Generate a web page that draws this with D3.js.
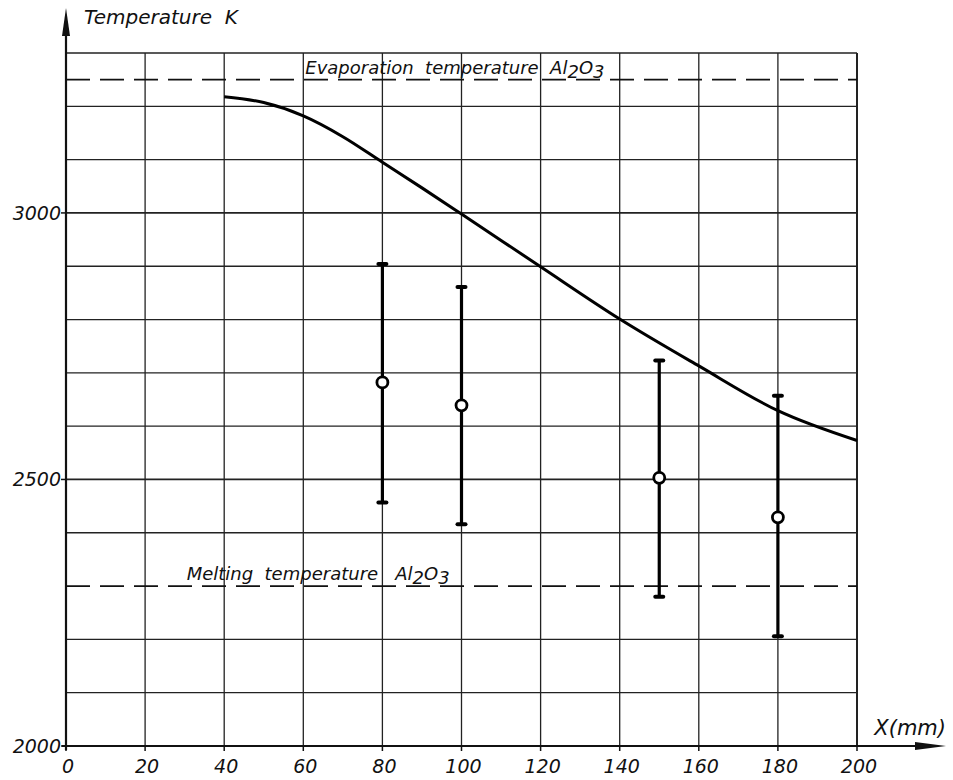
<!DOCTYPE html>
<html>
<head>
<meta charset="utf-8">
<script src="https://cdn.jsdelivr.net/npm/d3@7"></script>
<style>
  body { margin: 0; background: #fff; }
  text { font-family: "DejaVu Sans", sans-serif; font-style: italic; fill: #111; }
</style>
</head>
<body>
<div id="chart"></div>
<script>
// data
const xTicks = [0, 20, 40, 60, 80, 100, 120, 140, 160, 180, 200];
const yTickLabels = [2000, 2500, 3000];
const curveX = [40, 50, 60, 70, 80, 90, 100, 120, 140, 160, 180, 200];
const curveT = [3218, 3207, 3182, 3143, 3095, 3047, 2998, 2899, 2801, 2713, 2629, 2573];
const pointX = [80, 100, 150, 180];
const pointT = [2682, 2639, 2503, 2429];
const pointHigh = [2904, 2861, 2723, 2657];
const pointLow = [2457, 2416, 2280, 2206];
const evaporationT = 3250;
const meltingT = 2300;

const width = 953, height = 780;
const margin = {left: 66, right: 96, top: 53, bottom: 34};

const svg = d3.select("#chart").append("svg")
    .attr("width", width)
    .attr("height", height);

const x = d3.scaleLinear().domain([0, 200]).range([margin.left, width - margin.right]);
const y = d3.scaleLinear().domain([2000, 3300]).range([height - margin.bottom, margin.top]);

// grid (the 2300 line is replaced by the dashed melting line)
svg.append("g").selectAll("line").data(d3.range(2100, 3301, 100).filter(d => d !== meltingT)).join("line")
    .attr("x1", x(0)).attr("x2", x(200))
    .attr("y1", d => y(d)).attr("y2", d => y(d))
    .attr("stroke", "#222").attr("stroke-width", d => d === 3000 || d === 2500 ? 1.8 : 1.3);

svg.append("g").selectAll("line").data(xTicks.slice(1)).join("line")
    .attr("x1", d => x(d)).attr("x2", d => x(d))
    .attr("y1", y(2000)).attr("y2", y(3300))
    .attr("stroke", "#222").attr("stroke-width", d => d === 200 ? 2 : 1.3);

// axes with arrows
svg.append("line")
    .attr("x1", x(0)).attr("x2", x(0))
    .attr("y1", y(2000) + 4).attr("y2", 22)
    .attr("stroke", "#111").attr("stroke-width", 2.2);
svg.append("path")
    .attr("d", `M${x(0) - 4},36 L${x(0)},8 L${x(0) + 4},36 Z`)
    .attr("fill", "#111");

svg.append("line")
    .attr("x1", x(0) - 4).attr("x2", 925)
    .attr("y1", y(2000)).attr("y2", y(2000))
    .attr("stroke", "#111").attr("stroke-width", 2.2);
svg.append("path")
    .attr("d", `M915,${y(2000) - 4} L946,${y(2000)} L915,${y(2000) + 4} Z`)
    .attr("fill", "#111");

// y tick marks and labels
svg.append("g").selectAll("line").data(yTickLabels).join("line")
    .attr("x1", x(0) - 5).attr("x2", x(0))
    .attr("y1", d => y(d)).attr("y2", d => y(d))
    .attr("stroke", "#111").attr("stroke-width", 1.5);

svg.append("g").selectAll("text").data(yTickLabels).join("text")
    .attr("x", x(0) - 5)
    .attr("y", d => y(d) + 7)
    .attr("text-anchor", "end")
    .style("font-size", "19px")
    .text(d => d);

// x tick marks and labels
svg.append("g").selectAll("line").data(xTicks).join("line")
    .attr("x1", d => x(d)).attr("x2", d => x(d))
    .attr("y1", y(2000)).attr("y2", y(2000) + 5)
    .attr("stroke", "#111").attr("stroke-width", 1.5);

svg.append("g").selectAll("text").data(xTicks).join("text")
    .attr("x", d => x(d) + 2)
    .attr("y", y(2000) + 27)
    .attr("text-anchor", "middle")
    .style("font-size", "19px")
    .text(d => d);

// axis titles
svg.append("text")
    .attr("x", 84).attr("y", 24)
    .style("font-size", "20px")
    .attr("xml:space", "preserve")
    .text("Temperature  K");

svg.append("text")
    .attr("x", 946).attr("y", y(2000) - 11)
    .attr("text-anchor", "end")
    .style("font-size", "21px")
    .text("X(mm)");

// dashed reference lines
[evaporationT, meltingT].forEach(t => {
    svg.append("line")
        .attr("x1", x(0)).attr("x2", x(200))
        .attr("y1", y(t)).attr("y2", y(t))
        .attr("stroke", "#111").attr("stroke-width", 1.8)
        .attr("stroke-dasharray", "24,10");
});

function labelAl2O3(xPos, t, prefix) {
    const txt = svg.append("text")
        .attr("x", xPos).attr("y", y(t) - 6)
        .attr("xml:space", "preserve")
        .attr("textLength", null)
        .style("font-size", "18px");
    txt.append("tspan").text(prefix + "Al");
    txt.append("tspan").attr("dy", 4).text("2");
    txt.append("tspan").attr("dy", -4).text("O");
    txt.append("tspan").attr("dy", 4).text("3");
}
labelAl2O3(x(60.5), evaporationT, "Evaporation  temperature  ");
labelAl2O3(x(30.5), meltingT, "Melting  temperature   ");

// calculated temperature curve
const line = d3.line()
    .x((d, i) => x(curveX[i]))
    .y(d => y(d))
    .curve(d3.curveMonotoneX);

svg.append("path")
    .datum(curveT)
    .attr("d", line)
    .attr("fill", "none")
    .attr("stroke", "#000")
    .attr("stroke-width", 3);

// measured points with error bars
const pts = pointX.map((d, i) => ({x: d, t: pointT[i], hi: pointHigh[i], lo: pointLow[i]}));

const bars = svg.append("g").selectAll("g").data(pts).join("g");

bars.append("line")
    .attr("x1", d => x(d.x)).attr("x2", d => x(d.x))
    .attr("y1", d => y(d.hi)).attr("y2", d => y(d.lo))
    .attr("stroke", "#000").attr("stroke-width", 3.2);

bars.selectAll(".cap").data(d => [d.hi, d.lo].map(v => ({x: d.x, v: v}))).join("line")
    .attr("class", "cap")
    .attr("x1", d => x(d.x) - 4).attr("x2", d => x(d.x) + 4)
    .attr("y1", d => y(d.v)).attr("y2", d => y(d.v))
    .attr("stroke", "#000").attr("stroke-width", 4)
    .attr("stroke-linecap", "round");

bars.append("circle")
    .attr("cx", d => x(d.x)).attr("cy", d => y(d.t))
    .attr("r", 5.5)
    .attr("fill", "#fff")
    .attr("stroke", "#000").attr("stroke-width", 2.8);
</script>
</body>
</html>
